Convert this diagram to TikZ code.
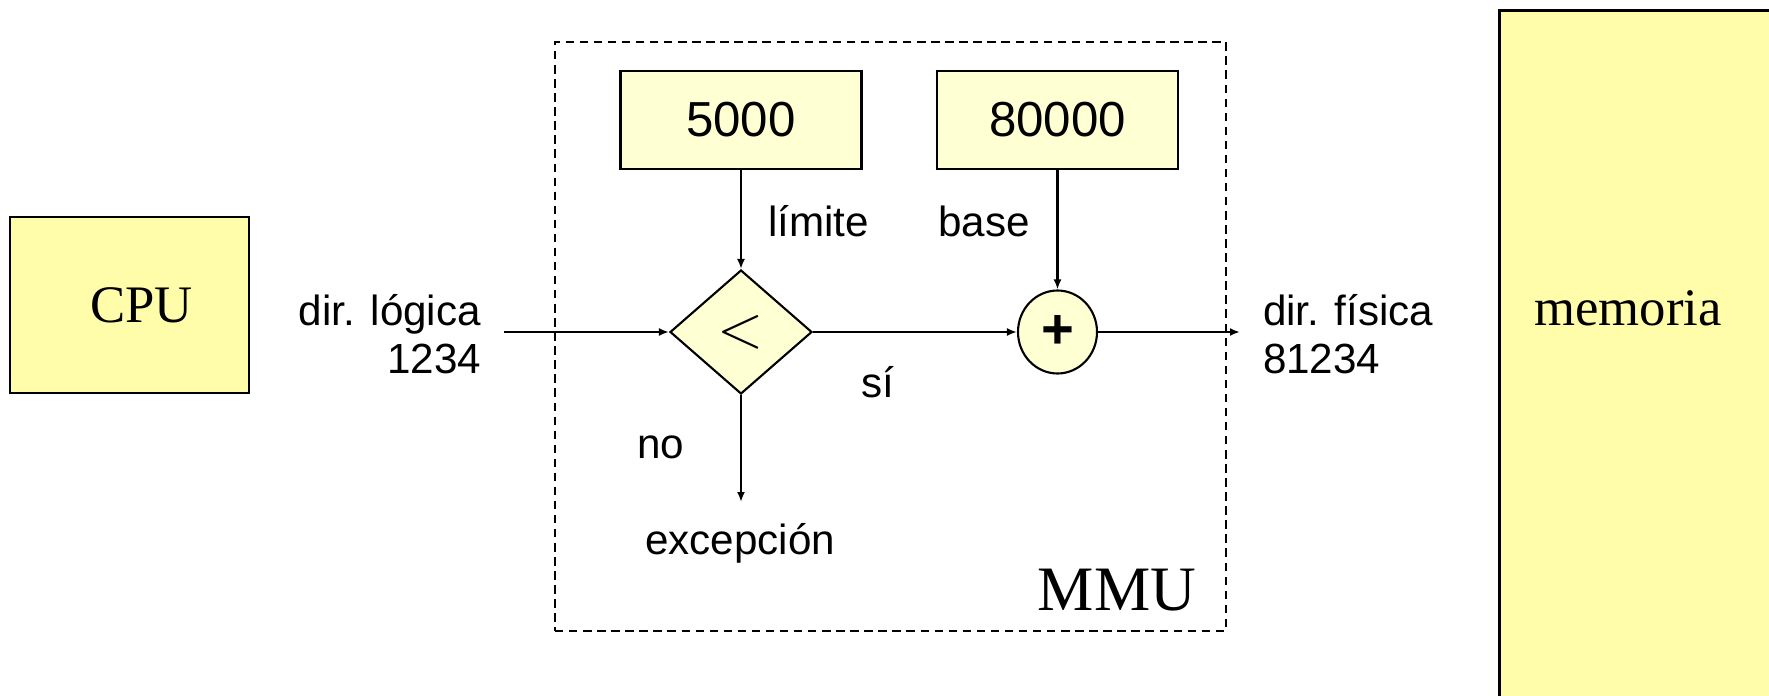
\documentclass[tikz,border=0pt]{standalone}
\usepackage{fontspec}
\setmainfont{Liberation Serif}
\setsansfont{Liberation Sans}
\usetikzlibrary{arrows.meta, shapes.geometric}
\tikzset{>={Latex[width=0.8mm,length=1mm]}}
\definecolor{memyellow}{HTML}{FFFCAA}
\definecolor{regyellow}{HTML}{FFFFD4}

\begin{document}
\begin{tikzpicture}[
    line width = 0.6pt,
    every node/.style = {font=\sffamily\fontsize{12}{13.7}\selectfont},
    unit/.style = {draw, fill=memyellow, inner sep=0pt,
        font=\rmfamily\fontsize{15}{18}\selectfont},
    reg/.style = {draw, fill=regyellow, minimum width=2.41cm,
        minimum height=0.98cm, inner sep=0pt,
        font=\sffamily\fontsize{14}{16}\selectfont},
    cmp/.style = {draw, fill=regyellow, diamond, minimum width=1.42cm,
        minimum height=1.24cm, inner sep=0pt},
    sum/.style = {draw, fill=regyellow, ellipse, minimum width=0.79cm,
        minimum height=0.83cm, inner sep=0pt},
    lbl/.style = {inner sep=0pt}
  ]
  \useasboundingbox (0,0) rectangle (17.69,6.95);

  \node[unit, minimum width=2.39cm, minimum height=1.76cm] (CPU) at (1.295,3.90) {\hspace*{0.24cm}CPU};
  \node[unit, line width=0.8pt, minimum width=2.95cm, minimum height=7.2cm,
        anchor=north west] (MEM) at (14.98,6.86) {};
  \node[lbl, font=\rmfamily\fontsize{15}{18}\selectfont] (MEMTXT) at (16.28,3.87) {memoria};

  \node[draw, dash pattern=on 2.4pt off 1.6pt, minimum width=6.71cm,
        minimum height=5.89cm] (MMU) at (8.905,3.585) {};
  \node[lbl, anchor=base east, font=\rmfamily\fontsize{18}{21}\selectfont] (MMUTXT) at (11.97,0.85) {MMU};

  \node[reg] (LIM) at (7.41,5.75) {5000};
  \node[reg] (BASE) at (10.575,5.75) {80000};
  \node[cmp, font=\fontsize{18}{20}\selectfont] (CMP) at (7.41,3.63) {$<$};
  \node[sum, font=\sffamily\bfseries\fontsize{16}{18}\selectfont] (SUM) at (10.575,3.63) {+};

  \coordinate (IN) at (5.04,3.63);
  \coordinate (OUT) at (12.40,3.63);
  \coordinate (EXC) at (7.41,1.93);

  \draw[->] (IN) -- (CMP.west);
  \draw[->] (LIM) -- (CMP);
  \draw[->] (BASE) -- (SUM);
  \draw[->] (CMP) -- (SUM);
  \draw[->] (CMP) -- (EXC);
  \draw[->] (SUM) -- (OUT);

  \node[lbl, anchor=east, align=right] (LOG) at (4.82,3.61) {dir. lógica\\1234};
  \node[lbl, anchor=west, align=left] (FIS) at (12.62,3.61) {dir. física\\81234};
  \node[lbl, anchor=west] (LIMTXT) at (7.67,4.74) {límite};
  \node[lbl, anchor=east] (BASETXT) at (10.31,4.74) {base};
  \node[lbl] (SI) at (8.78,3.13) {sí};
  \node[lbl] (NO) at (6.61,2.48) {no};
  \node[lbl] (EXCTXT) at (7.40,1.52) {excepción};
\end{tikzpicture}
\end{document}
